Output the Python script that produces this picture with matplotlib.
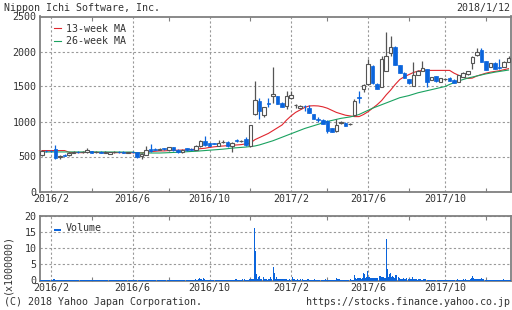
import numpy as np
import pandas as pd
import matplotlib
matplotlib.use("Agg")
import matplotlib.pyplot as plt

# weekly candles, week of 2016-01-18 .. week of 2018-01-08
opens = [515, 585, 580, 605, 495, 525, 515, 555, 565, 560, 560, 580, 560,
         568, 555, 535, 560, 565, 560, 555, 565, 560, 510, 520, 610, 605,
         600, 615, 590, 635, 600, 560, 615, 610, 595, 645, 720, 690, 690,
         655, 705, 710, 645, 735, 715, 745, 655, 1105, 1300, 1090, 1270, 1360,
         1360, 1265, 1225, 1330, 1230, 1200, 1220, 1200, 1105, 1030, 1025, 1010, 905,
         860, 975, 985, 960, 1090, 1350, 1460, 1540, 1795, 1540, 1500, 1720, 1985,
         2070, 1805, 1695, 1605, 1510, 1665, 1725, 1745, 1595, 1650, 1570, 1605, 1625,
         1600, 1565, 1640, 1680, 1830, 1945, 2025, 1865, 1785, 1840, 1785, 1785, 1855]
highs = [590, 595, 600, 660, 520, 535, 560, 575, 580, 575, 615, 585, 575,
         580, 575, 570, 575, 580, 572, 570, 575, 570, 545, 655, 675, 615,
         615, 625, 640, 640, 610, 610, 620, 620, 660, 730, 790, 700, 700,
         735, 730, 720, 705, 750, 730, 775, 955, 1585, 1330, 1210, 1330, 1780,
         1370, 1280, 1435, 1440, 1255, 1230, 1230, 1235, 1110, 1060, 1030, 1015, 910,
         1040, 1005, 990, 975, 1320, 1440, 1530, 1900, 1800, 1550, 1940, 2285, 2220,
         2075, 1810, 1700, 1610, 1855, 1730, 1860, 1750, 1640, 1655, 1625, 1615, 1630,
         1605, 1670, 1700, 1725, 1935, 2050, 2050, 1870, 1835, 1845, 1900, 1860, 1935]
lows = [505, 570, 565, 470, 470, 505, 510, 545, 550, 548, 555, 550, 545,
        550, 545, 530, 550, 550, 548, 545, 550, 485, 465, 515, 560, 590,
        595, 600, 585, 580, 550, 555, 580, 590, 590, 640, 650, 650, 680,
        650, 690, 635, 570, 705, 705, 650, 640, 1095, 1035, 1060, 1210, 1260,
        1250, 1200, 1185, 1320, 1195, 1195, 1150, 1115, 1030, 990, 965, 835, 845,
        855, 970, 935, 950, 1085, 1270, 1420, 1520, 1530, 1465, 1490, 1715, 1935,
        1800, 1695, 1620, 1540, 1500, 1660, 1720, 1495, 1590, 1570, 1565, 1595, 1580,
        1550, 1560, 1630, 1670, 1745, 1940, 1850, 1735, 1780, 1745, 1755, 1780, 1850]
closes = [580, 578, 575, 478, 500, 510, 548, 560, 558, 562, 590, 555, 565,
          555, 560, 558, 565, 560, 556, 560, 560, 500, 535, 595, 585, 598,
          605, 605, 630, 590, 560, 600, 590, 595, 650, 720, 660, 655, 685,
          700, 712, 645, 695, 715, 722, 660, 950, 1310, 1155, 1200, 1250, 1390,
          1255, 1205, 1365, 1380, 1235, 1222, 1215, 1120, 1035, 1028, 970, 860, 850,
          950, 1000, 940, 962, 1290, 1330, 1525, 1825, 1545, 1470, 1900, 1935, 2065,
          1810, 1700, 1625, 1545, 1665, 1725, 1760, 1570, 1630, 1578, 1615, 1608, 1585,
          1555, 1665, 1690, 1720, 1925, 1990, 1855, 1740, 1830, 1750, 1760, 1855, 1905]

ma13 = [585, 585, 585, 585, 585, 585, 560, 555, 555, 555, 560, 560, 558,
        556, 555, 555, 555, 555, 555, 553, 553, 552, 552, 560, 570, 575,
        580, 580, 585, 588, 590, 592, 595, 600, 605, 612, 618, 630, 638,
        645, 650, 655, 660, 665, 670, 680, 690, 740, 770, 800, 830, 870,
        910, 950, 1020, 1080, 1130, 1165, 1200, 1222, 1225, 1222, 1210, 1190, 1160,
        1130, 1110, 1090, 1080, 1070, 1070, 1100, 1140, 1190, 1240, 1300, 1380, 1450,
        1530, 1600, 1640, 1670, 1700, 1720, 1730, 1730, 1730, 1730, 1730, 1730, 1730,
        1690, 1660, 1630, 1615, 1620, 1650, 1670, 1690, 1705, 1715, 1725, 1740, 1755]
ma26 = [565, 565, 565, 565, 565, 565, 565, 565, 565, 565, 565, 565, 565,
        565, 565, 564, 564, 564, 563, 563, 563, 552, 550, 550, 550, 550,
        550, 552, 555, 558, 560, 565, 568, 572, 575, 580, 585, 590, 595,
        600, 605, 612, 620, 625, 630, 635, 642, 650, 665, 685, 705, 725,
        750, 775, 800, 825, 850, 875, 900, 920, 940, 960, 980, 1000, 1015,
        1030, 1045, 1055, 1065, 1080, 1100, 1130, 1160, 1190, 1215, 1240, 1265, 1290,
        1315, 1340, 1355, 1370, 1390, 1410, 1425, 1440, 1455, 1470, 1485, 1500, 1530,
        1555, 1580, 1600, 1620, 1635, 1650, 1665, 1680, 1692, 1705, 1715, 1725, 1735]

# daily volume (x1000000), one row of five trading days per week
volume_weeks = [
    (.3, .3, .2, .3, .2), (.2, .2, .3, .2, .2), (.2, .3, .2, .2, .2), (.4, .5, .3, .3, .2),
    (.2, .2, .3, .2, .2), (.2, .2, .2, .3, .2), (.2, .3, .2, .2, .2), (.2, .2, .2, .2, .3),
    (.2, .2, .2, .2, .2), (.3, .2, .2, .2, .2), (.2, .3, .2, .2, .2), (.2, .2, .2, .3, .2),
    (.2, .2, .2, .2, .2), (.2, .3, .2, .2, .2), (.2, .2, .2, .2, .2), (.3, .2, .2, .2, .2),
    (.2, .2, .2, .2, .2), (.2, .2, .3, .2, .2), (.2, .2, .2, .2, .2), (.2, .3, .3, .2, .2),
    (.2, .2, .2, .2, .2), (.2, .3, .2, .2, .2), (.2, .2, .2, .2, .3), (.2, .2, .2, .2, .2),
    (.2, .2, .3, .2, .2), (.2, .2, .2, .2, .2), (.2, .2, .2, .3, .2), (.2, .2, .2, .2, .2),
    (.2, .2, .2, .2, .2), (.3, .2, .2, .2, .2), (.2, .2, .2, .2, .2), (.2, .3, .2, .2, .2),
    (.2, .2, .2, .2, .2), (.3, .2, .2, .2, .2), (.3, .3, .4, .3, .3), (.5, .8, .6, .4, .3),
    (.7, .5, .4, .3, .3), (.3, .3, .3, .3, .3), (.3, .3, .3, .3, .3), (.3, .3, .3, .3, .3),
    (.3, .3, .3, .3, .3), (.3, .3, .3, .3, .3), (.3, .3, .3, .3, .3), (.3, .6, .4, .3, .3),
    (.3, .3, .3, .4, .3), (.3, .4, .3, .3, .3), (.3, .4, .4, .5, .4), (.4, .4, 16.1, 9.1, 1.9),
    (.5, 1.1, 1.3, .6, .6), (1.0, 1.0, 1.0, .5, .4), (.4, .3, .4, .5, 1.0), (.4, .4, 2.2, 4.2, 2.2),
    (.6, 1.0, .6, .6, .6), (.6, .5, .6, .4, .4), (.6, .6, .4, .3, .3), (.4, .3, .4, .6, 1.0),
    (.4, .4, .3, .3, .4), (.3, .3, .4, .3, .3), (.4, .3, .3, .3, .3), (.4, .4, .3, .3, .4),
    (.3, .3, .3, .4, .3), (.3, .3, .3, .3, .3), (.3, .3, .3, .3, .3), (.4, .3, .3, .3, .3),
    (.3, .3, .3, .3, .3), (.3, .3, .8, .4, .4), (.4, .3, .3, .3, .3), (.3, .3, .3, .3, .3),
    (.3, .3, .3, .4, .3), (.3, .3, 1.6, .8, .5), (.8, .8, .6, .8, .8), (.4, .8, 2.2, 2.0, .8),
    (1.1, 2.9, 1.1, 1.1, 1.0), (.7, .7, .7, .7, .8), (.8, .8, .8, .8, .6), (1.3, 1.3, 1.0, 1.1, 1.1),
    (.8, .8, 12.7, 3.5, 1.6), (1.0, 2.0, 2.3, 1.1, 1.4), (1.0, .8, 1.6, 1.8, 1.0), (.8, 1.0, .8, .6, .6),
    (.6, .8, .6, .6, .8), (.6, 1.0, .5, .4, .4), (.6, 1.0, .6, .4, .4), (.4, .4, .3, .4, .4),
    (.4, .3, .3, .4, .4), (.4, .4, .3, .3, .3), (.3, .3, .3, .2, .3), (.2, .3, .2, .3, .2),
    (.3, .2, .2, .3, .2), (.2, .3, .2, .2, .3), (.3, .2, .3, .2, .2), (.2, .3, .2, .3, .2),
    (.3, .4, .3, .3, .3), (.3, .3, .4, .3, .3), (.4, .3, .3, .3, .3), (.4, .8, 1.3, .8, .6),
    (.5, .5, .5, .4, .5), (.5, .5, .8, .5, .4), (.3, .3, .3, .3, .3), (.3, .3, .3, .3, .3),
    (.3, .3, .3, .3, .3), (.3, .3, .3, .3, .3), (.3, .4, .3, .3, .3), (.3, .3, .3, .3, .3),
]

month_labels = ["2016/2", "2016/6", "2016/10", "2017/2", "2017/6", "2017/10"]
minor_months = ["2016/4", "2016/8", "2016/12", "2017/4", "2017/8", "2017/12"]

weeks = pd.date_range("2016-01-18", periods=len(opens), freq="W-MON")


def week_of(label):
    y, m = map(int, label.split("/"))
    return int(np.argmax((weeks.year == y) & (weeks.month == m)))


major_pos = [week_of(s) for s in month_labels]
minor_pos = [week_of(s) for s in minor_months]

BLUE = "#0a64dc"
GRAY = "#555555"
FRAME = "#808080"
TXT = "#333333"
plt.rcParams["font.family"] = ["DejaVu Sans Mono"]
FS = 7.2

fig = plt.figure(figsize=(5.12, 3.10), dpi=100)
ax = fig.add_axes([39.5 / 512, 1 - 191.5 / 310, 471.5 / 512, 175 / 310])
axv = fig.add_axes([39.5 / 512, 1 - 280.5 / 310, 471.5 / 512, 64.8 / 310])

x = np.arange(len(opens))
o = np.array(opens); c = np.array(closes)
h = np.array(highs); l = np.array(lows)
up = c >= o

ax.plot(x, ma13, color="#e0262e", lw=0.8, label="13-week MA", zorder=3)
ax.plot(x, ma26, color="#1aa260", lw=0.8, label="26-week MA", zorder=3)

ax.vlines(x[up], l[up], h[up], color=GRAY, lw=0.9, zorder=4)
ax.vlines(x[~up], l[~up], h[~up], color=BLUE, lw=0.9, zorder=4)
body = np.maximum(np.abs(c - o), 6)
ax.bar(x[up], body[up], bottom=o[up], width=0.78, facecolor="white",
       edgecolor=GRAY, linewidth=0.8, zorder=5)
ax.bar(x[~up], body[~up], bottom=c[~up], width=0.78, facecolor=BLUE,
       edgecolor=BLUE, linewidth=0.5, zorder=5)

# volume bars: five days per week around the week position
days = np.array([i + (k - 2) * 0.2 for i in x for k in range(5)])
volume = np.array(volume_weeks).ravel()
axv.bar(days, volume, width=0.19, color=BLUE, linewidth=0, antialiased=False,
        label="Volume", zorder=3)

for a, top in ((ax, 2500), (axv, 20)):
    a.set_xlim(-0.53, 103.55)
    a.set_ylim(0, top)
    a.set_xticks(major_pos)
    a.set_xticklabels(month_labels)
    a.set_xticks(minor_pos, minor=True)
    a.grid(True, which="major", color="#999999", lw=0.8, ls=(0, (2, 2)))
    a.set_axisbelow(True)
    a.tick_params(which="major", length=0, labelsize=FS, labelcolor=TXT, pad=2)
    a.tick_params(which="minor", length=3, direction="in", top=True,
                  bottom=True, color=FRAME, width=0.8)
    for s in a.spines.values():
        s.set_color(FRAME)
        s.set_linewidth(1.3)

ax.set_yticks(range(0, 2501, 500))
axv.set_yticks(range(0, 21, 5))
axv.set_ylabel("(x1000000)", fontsize=FS, color=TXT)
axv.yaxis.set_label_coords(-0.058, 0.25)

leg = ax.legend(loc="upper left", bbox_to_anchor=(0.015, 1.0), frameon=False,
                fontsize=FS, handlelength=0.7, handletextpad=0.5,
                labelspacing=0.25, borderaxespad=0.3)
for t in leg.get_texts():
    t.set_color(TXT)
legv = axv.legend(loc="upper left", bbox_to_anchor=(0.015, 1.0), frameon=False,
                  fontsize=FS, handlelength=0.7, handletextpad=0.5,
                  borderaxespad=0.3)
for t in legv.get_texts():
    t.set_color(TXT)
legv.legend_handles[0].set_height(1.2)

fig.text(4 / 512, 1 - 8 / 310, "Nippon Ichi Software, Inc.", fontsize=FS,
         color=TXT, va="center", ha="left")
fig.text(510 / 512, 1 - 8 / 310, "2018/1/12", fontsize=FS, color=TXT,
         va="center", ha="right")
fig.text(4 / 512, 1 - 302 / 310, "(C) 2018 Yahoo Japan Corporation.",
         fontsize=FS, color=TXT, va="center", ha="left")
fig.text(510 / 512, 1 - 302 / 310, "https://stocks.finance.yahoo.co.jp",
         fontsize=FS, color=TXT, va="center", ha="right")

fig.savefig("out.png", dpi=100)
